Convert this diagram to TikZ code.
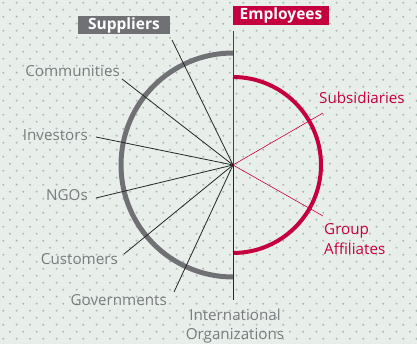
\documentclass[tikz,border=0pt]{standalone}
\usepackage{fontspec}
\setmainfont{Open Sans}
\definecolor{lgred}{RGB}{197,0,62}
\definecolor{lggray}{RGB}{112,113,116}
\definecolor{labelgray}{RGB}{122,123,126}
\definecolor{paper}{RGB}{232,239,235}
\definecolor{dotcol}{RGB}{168,186,177}
\begin{document}
\begin{tikzpicture}[x=1pt,y=-1pt,
  stakeholder/.style={text=labelgray,font=\fontsize{15.2}{19.5}\selectfont,inner sep=0pt},
  redholder/.style={stakeholder,text=lgred},
  headbox/.style={fill=#1,text=white,font=\bfseries\fontsize{15.5}{16}\selectfont,
    minimum height=18pt,inner sep=0pt},
  spoke/.style={line width=0.8pt,black!85}]
% Paper with dots
\useasboundingbox (0,0) rectangle (417,344);
\fill[paper] (0,0) rectangle (417,344);
\foreach \i in {0,...,31}
  \foreach \j in {0,...,24}{
    \fill[dotcol] (3.3+13.33*\i,2.7+14*\j) circle[radius=1.1];
    \fill[dotcol] (10+13.33*\i,9.7+14*\j) circle[radius=1.1];
  }
% Headers
\node[headbox=lggray,minimum width=92pt] (suppliers) at (124,25) {Suppliers};
\node[headbox=lgred,minimum width=96pt,minimum height=19pt] (employees) at (281,15.5) {Employees};
% Hub and arcs
\coordinate (hub) at (233,165);
\draw[lggray,line width=5pt] (233,53) arc[start angle=270,end angle=90,radius=112];
\draw[lgred,line width=4pt] (233,77) arc[start angle=-90,end angle=90,radius=88];
% Line ends
\coordinate (empEnd) at (233,31);
\coordinate (supEnd) at (172,40);
\coordinate (comEnd) at (122,79);
\coordinate (invEnd) at (96,137);
\coordinate (ngoEnd) at (96,198);
\coordinate (cusEnd) at (124,254);
\coordinate (govEnd) at (174,292);
\coordinate (intEnd) at (233,300);
\coordinate (subEnd) at (323,113);
\coordinate (grpEnd) at (323,216);
% Spokes
\draw[lgred,line width=0.8pt] (hub) -- (empEnd);
\draw[lgred,line width=0.6pt] (hub) -- (subEnd);
\draw[lgred,line width=0.6pt] (hub) -- (grpEnd);
\foreach \e in {supEnd,comEnd,invEnd,ngoEnd,cusEnd,govEnd,intEnd}
  \draw[spoke] (hub) -- (\e);
% Labels
\node[stakeholder,anchor=east] (communities) at (120,71) {Communities};
\node[stakeholder,anchor=east] (investors) at (88,135) {Investors};
\node[stakeholder,anchor=east] (ngos) at (88,195) {NGOs};
\node[stakeholder,anchor=east] (customers) at (118,259) {Customers};
\node[stakeholder,anchor=east] (governments) at (167,300) {Governments};
\node[stakeholder,align=center] (intl) at (235,326) {International\\Organizations};
\node[redholder,anchor=west] (subsidiaries) at (319,98) {Subsidiaries};
\node[redholder,anchor=west,align=left] (affiliates) at (324,239) {Group\\Affiliates};
\end{tikzpicture}
\end{document}
